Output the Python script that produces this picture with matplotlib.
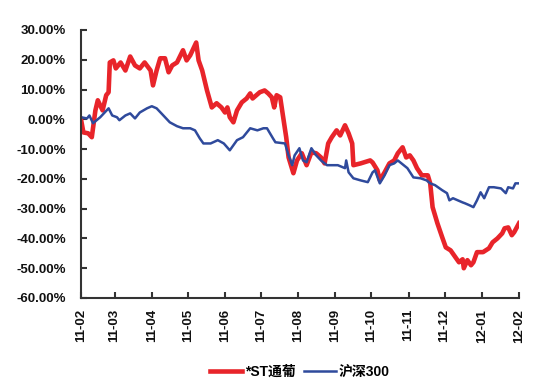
import numpy as np
import pandas as pd
import matplotlib
matplotlib.use("Agg")
import matplotlib.pyplot as plt
import matplotlib.dates as mdates
from matplotlib.ticker import FuncFormatter

# ====== DATA (% return since 2011-02) ======
st_dates = [
    "2011-02-01", "2011-02-03", "2011-02-07", "2011-02-10", "2011-02-13", "2011-02-15",
    "2011-02-19", "2011-02-22", "2011-02-24", "2011-02-25", "2011-02-28", "2011-03-02",
    "2011-03-06", "2011-03-10", "2011-03-14", "2011-03-18", "2011-03-22", "2011-03-26",
    "2011-03-31", "2011-04-02", "2011-04-05", "2011-04-08", "2011-04-12", "2011-04-15",
    "2011-04-18", "2011-04-22", "2011-04-27", "2011-04-30", "2011-05-03", "2011-05-08",
    "2011-05-10", "2011-05-13", "2011-05-17", "2011-05-21", "2011-05-25", "2011-05-29",
    "2011-06-01", "2011-06-03", "2011-06-05", "2011-06-08", "2011-06-11", "2011-06-15",
    "2011-06-19", "2011-06-22", "2011-06-24", "2011-06-30", "2011-07-04", "2011-07-07",
    "2011-07-10", "2011-07-12", "2011-07-14", "2011-07-17", "2011-07-19", "2011-07-22",
    "2011-07-24", "2011-07-28", "2011-07-31", "2011-08-04", "2011-08-08", "2011-08-12",
    "2011-08-16", "2011-08-20", "2011-08-23", "2011-08-26", "2011-08-29", "2011-09-02",
    "2011-09-05", "2011-09-09", "2011-09-12", "2011-09-15", "2011-09-16", "2011-09-22",
    "2011-09-30", "2011-10-02", "2011-10-06", "2011-10-08", "2011-10-12", "2011-10-16",
    "2011-10-20", "2011-10-23", "2011-10-27", "2011-10-30", "2011-11-02", "2011-11-05",
    "2011-11-08", "2011-11-12", "2011-11-17", "2011-11-19", "2011-11-21", "2011-11-25",
    "2011-11-29", "2011-12-02", "2011-12-06", "2011-12-10", "2011-12-13", "2011-12-16",
    "2011-12-17", "2011-12-20", "2011-12-23", "2011-12-25", "2011-12-28", "2012-01-02",
    "2012-01-07", "2012-01-10", "2012-01-14", "2012-01-18", "2012-01-20", "2012-01-23",
    "2012-01-26", "2012-01-28", "2012-02-01",
]
st_values = [
    0.0, -4.4, -4.7, -6.0, 3.0, 6.4,
    3.0, 8.1, 9.1, 19.1, 19.8, 17.1,
    19.1, 16.4, 21.1, 18.1, 17.1, 19.1,
    16.4, 11.4, 16.4, 20.5, 20.5, 15.8,
    18.1, 19.1, 23.2, 19.8, 21.5, 25.8,
    19.8, 16.4, 9.7, 4.0, 5.4, 4.0,
    2.3, 4.0, 0.7, -1.0, 3.0, 5.7,
    7.0, 8.7, 7.0, 9.1, 9.7, 8.7,
    7.4, 4.0, 8.1, 7.4, 2.0, -6.0,
    -12.8, -18.1, -13.8, -11.4, -15.4, -11.1,
    -11.4, -12.8, -14.8, -8.1, -6.0, -3.7,
    -5.4, -2.0, -4.7, -8.1, -15.4, -14.8,
    -13.8, -14.5, -17.1, -20.5, -17.8, -14.8,
    -13.8, -11.4, -9.4, -12.8, -12.1, -13.8,
    -16.4, -18.8, -18.8, -21.5, -29.5, -34.9,
    -39.6, -43.0, -44.0, -46.3, -48.0, -47.0,
    -50.0, -47.3, -49.0, -48.0, -44.6, -44.6,
    -43.3, -41.3, -40.0, -38.3, -36.6, -36.3,
    -38.9, -37.9, -34.9,
]

hs_dates = [
    "2011-02-01", "2011-02-06", "2011-02-08", "2011-02-11", "2011-02-17", "2011-02-24",
    "2011-02-27", "2011-03-03", "2011-03-05", "2011-03-10", "2011-03-14", "2011-03-18",
    "2011-03-22", "2011-03-28", "2011-04-01", "2011-04-05", "2011-04-09", "2011-04-16",
    "2011-04-22", "2011-04-27", "2011-05-03", "2011-05-07", "2011-05-11", "2011-05-14",
    "2011-05-20", "2011-05-26", "2011-05-31", "2011-06-05", "2011-06-11", "2011-06-16",
    "2011-06-22", "2011-06-28", "2011-07-03", "2011-07-06", "2011-07-11", "2011-07-13",
    "2011-07-21", "2011-07-24", "2011-07-27", "2011-07-29", "2011-08-02", "2011-08-05",
    "2011-08-08", "2011-08-12", "2011-08-16", "2011-08-20", "2011-08-25", "2011-08-29",
    "2011-09-03", "2011-09-09", "2011-09-10", "2011-09-12", "2011-09-16", "2011-09-22",
    "2011-09-28", "2011-10-02", "2011-10-04", "2011-10-08", "2011-10-12", "2011-10-16",
    "2011-10-20", "2011-10-23", "2011-10-27", "2011-10-31", "2011-11-05", "2011-11-11",
    "2011-11-16", "2011-11-19", "2011-11-23", "2011-11-29", "2011-12-03", "2011-12-05",
    "2011-12-08", "2011-12-12", "2011-12-16", "2011-12-18", "2011-12-22", "2011-12-25",
    "2011-12-28", "2011-12-31", "2012-01-03", "2012-01-07", "2012-01-11", "2012-01-17",
    "2012-01-21", "2012-01-23", "2012-01-27", "2012-01-29", "2012-02-01",
]
hs_values = [
    0.7, 0.3, 1.3, -1.3, 0.7, 3.7,
    1.3, 0.7, -0.3, 1.3, 2.0, 0.3,
    2.3, 3.7, 4.4, 3.7, 2.0, -1.0,
    -2.3, -3.0, -3.0, -3.7, -6.4, -8.1,
    -8.1, -7.0, -8.1, -10.4, -7.0, -6.0,
    -3.0, -3.7, -3.0, -3.0, -6.4, -7.7,
    -8.1, -12.1, -15.4, -12.1, -9.7, -13.8,
    -14.4, -9.7, -12.1, -13.8, -15.4, -15.4,
    -15.4, -16.4, -13.8, -17.8, -19.8, -20.5,
    -21.1, -17.8, -17.1, -21.5, -18.8, -15.4,
    -14.8, -13.8, -15.1, -16.4, -19.5, -19.8,
    -20.5, -21.5, -22.1, -23.8, -24.8, -27.2,
    -26.5, -27.2, -27.9, -28.2, -28.9, -29.5,
    -27.2, -24.5, -26.5, -22.8, -22.8, -23.2,
    -24.8, -22.8, -23.2, -21.5, -21.5,
]

st_label = "*ST通葡"
hs_label = "沪深300"
y_ticks = [30, 20, 10, 0, -10, -20, -30, -40, -50, -60]

# ====== PLOT ======
plt.rcParams['font.family'] = ['Liberation Sans', 'Noto Sans CJK SC', 'DejaVu Sans']
plt.rcParams['font.weight'] = 'bold'

fig = plt.figure(figsize=(5.45, 3.9), dpi=100)
ax = fig.add_axes([81/545, 1 - 298/390, (519 - 81)/545, (298 - 30)/390])

ax.plot(pd.to_datetime(st_dates), st_values, color='#e8242a', lw=3.3,
        solid_joinstyle='round', label=st_label)
ax.plot(pd.to_datetime(hs_dates), hs_values, color='#2f4a9c', lw=1.8,
        solid_joinstyle='round', label=hs_label)

ax.set_xlim(pd.Timestamp("2011-02-01"), pd.Timestamp("2012-02-01"))
ax.set_ylim(-60, 30)
ax.set_yticks(y_ticks)
ax.yaxis.set_major_formatter(FuncFormatter(lambda v, p: f"{v:.2f}%"))

ax.xaxis.set_major_locator(mdates.MonthLocator())
ax.xaxis.set_major_formatter(mdates.DateFormatter("%y-%m"))
for lab in ax.get_xticklabels():
    lab.set_rotation(90)

for s in ['top', 'right']:
    ax.spines[s].set_visible(False)
for s in ['left', 'bottom']:
    ax.spines[s].set_color('#333333')
    ax.spines[s].set_linewidth(1.5)

ax.tick_params(axis='both', direction='in', length=4, width=1.5, color='#333333',
               labelsize=9.5, labelcolor='#111111')
ax.tick_params(axis='x', pad=8)
ax.tick_params(axis='y', pad=11)

fig.legend(loc='center', bbox_to_anchor=(300/545, 1 - 372/390), ncol=2,
           frameon=False, prop={'size': 10, 'weight': 'bold'},
           handlelength=2.3, handletextpad=0.2, columnspacing=0.6)

fig.savefig("out.png", dpi=100)
